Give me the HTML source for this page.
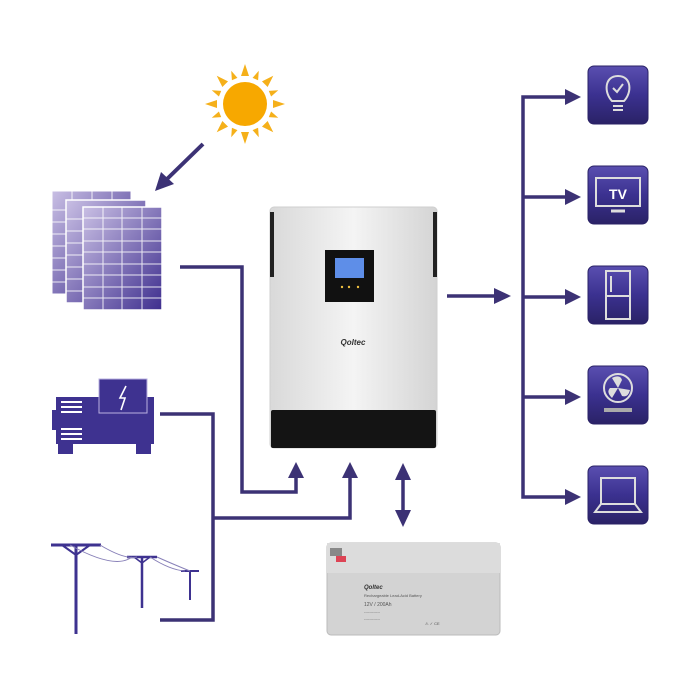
<!DOCTYPE html>
<html><head><style>body{margin:0;background:#fff}svg{display:block}</style></head><body>
<svg width="700" height="700" viewBox="0 0 700 700" xmlns="http://www.w3.org/2000/svg" font-family="Liberation Sans, sans-serif">
<defs>
<linearGradient id="pv" x1="0" y1="0" x2="1" y2="1"><stop offset="0" stop-color="#c9bfe4"/><stop offset="1" stop-color="#3e2e8e"/></linearGradient>
<linearGradient id="ic" x1="0" y1="0" x2="0" y2="1"><stop offset="0" stop-color="#5a4fb0"/><stop offset="0.5" stop-color="#3b3190"/><stop offset="1" stop-color="#2a2266"/></linearGradient>
<linearGradient id="inv" x1="0" y1="0" x2="1" y2="0"><stop offset="0" stop-color="#d9d9d9"/><stop offset="0.5" stop-color="#f4f4f4"/><stop offset="1" stop-color="#d4d4d4"/></linearGradient>
<pattern id="grid" width="19.75" height="11.4" patternUnits="userSpaceOnUse"><rect width="19.75" height="11.4" fill="none" stroke="#fff" stroke-width="1.2" opacity="0.8"/></pattern>
</defs>
<!-- sun -->
<g fill="#f5b01a">
<circle cx="245" cy="104" r="22" fill="#f7a800"/>
<g transform="translate(245,104)">
<polygon points="-4,-28 4,-28 0,-40"/><polygon points="-4,28 4,28 0,40"/><polygon points="-28,-4 -28,4 -40,0"/><polygon points="28,-4 28,4 40,0"/>
<g transform="rotate(45)"><polygon points="-4,-28 4,-28 0,-40"/><polygon points="-4,28 4,28 0,40"/><polygon points="-28,-4 -28,4 -40,0"/><polygon points="28,-4 28,4 40,0"/></g>
<g transform="rotate(22.5)"><polygon points="-3,-27 3,-27 0,-36"/><polygon points="-3,27 3,27 0,36"/><polygon points="-27,-3 -27,3 -36,0"/><polygon points="27,-3 27,3 36,0"/></g>
<g transform="rotate(67.5)"><polygon points="-3,-27 3,-27 0,-36"/><polygon points="-3,27 3,27 0,36"/><polygon points="-27,-3 -27,3 -36,0"/><polygon points="27,-3 27,3 36,0"/></g>
</g></g>
<line x1="203" y1="144" x2="166" y2="180" stroke="#3c3275" stroke-width="4"/>
<polygon points="155,191 161,172 174,184" fill="#3c3275"/>
<!-- panels -->
<g><rect x="52" y="191" width="79" height="103" fill="url(#pv)"/><rect x="52" y="191" width="79" height="103" fill="url(#pg)" stroke="#fff"/>
<rect x="66" y="200" width="80" height="103" fill="url(#pv)" stroke="#fff" stroke-width="1.5"/>
<rect x="83" y="207" width="79" height="103" fill="url(#pv)" stroke="#fff" stroke-width="1.5"/>
<g stroke="#fff" stroke-width="1" opacity="0.85">
<line x1="72" y1="191" x2="72" y2="200"/><line x1="92" y1="191" x2="92" y2="200"/><line x1="112" y1="191" x2="112" y2="200"/>
<line x1="52" y1="210" x2="66" y2="210"/><line x1="52" y1="222" x2="66" y2="222"/><line x1="52" y1="234" x2="66" y2="234"/><line x1="52" y1="246" x2="66" y2="246"/><line x1="52" y1="258" x2="66" y2="258"/><line x1="52" y1="270" x2="66" y2="270"/><line x1="52" y1="282" x2="66" y2="282"/>
<line x1="66" y1="219" x2="83" y2="219"/><line x1="66" y1="231" x2="83" y2="231"/><line x1="66" y1="243" x2="83" y2="243"/><line x1="66" y1="255" x2="83" y2="255"/><line x1="66" y1="267" x2="83" y2="267"/><line x1="66" y1="279" x2="83" y2="279"/><line x1="66" y1="291" x2="83" y2="291"/>
<line x1="103" y1="207" x2="103" y2="310"/><line x1="122" y1="207" x2="122" y2="310"/><line x1="142" y1="207" x2="142" y2="310"/>
<line x1="83" y1="218" x2="162" y2="218"/><line x1="83" y1="229" x2="162" y2="229"/><line x1="83" y1="241" x2="162" y2="241"/><line x1="83" y1="252" x2="162" y2="252"/><line x1="83" y1="264" x2="162" y2="264"/><line x1="83" y1="275" x2="162" y2="275"/><line x1="83" y1="287" x2="162" y2="287"/><line x1="83" y1="298" x2="162" y2="298"/>
</g></g>
<!-- generator -->
<g fill="#3e3290">
<rect x="52" y="410" width="5" height="20"/>
<rect x="56" y="397" width="98" height="47"/>
<rect x="99" y="379" width="48" height="34" stroke="#b9b0e0" stroke-width="1"/>
<rect x="58" y="444" width="15" height="10"/><rect x="136" y="444" width="15" height="10"/>
</g>
<g stroke="#fff" stroke-width="2"><line x1="61" y1="402" x2="82" y2="402"/><line x1="61" y1="407" x2="82" y2="407"/><line x1="61" y1="412" x2="82" y2="412"/><line x1="61" y1="429" x2="82" y2="429"/><line x1="61" y1="434" x2="82" y2="434"/><line x1="61" y1="439" x2="82" y2="439"/></g>
<polyline points="126,386 120,398 125,398 121,410" fill="none" stroke="#fff" stroke-width="1.6"/>
<!-- poles -->
<g stroke="#3e3290" fill="#3e3290">
<line x1="76" y1="545" x2="76" y2="634" stroke-width="3"/><line x1="51" y1="545" x2="101" y2="545" stroke-width="3"/><polyline points="62,545 76,555 90,545" fill="none" stroke-width="2"/>
<line x1="142" y1="557" x2="142" y2="608" stroke-width="2.5"/><line x1="127" y1="557" x2="157" y2="557" stroke-width="2.5"/><polyline points="134,557 142,563 150,557" fill="none" stroke-width="1.5"/>
<line x1="190" y1="571" x2="190" y2="600" stroke-width="2"/><line x1="181" y1="571" x2="199" y2="571" stroke-width="2"/>
</g>
<g fill="none" stroke="#8880b8" stroke-width="1"><path d="M100,545 Q125,560 137,557"/><path d="M70,545 Q115,570 132,557"/><path d="M157,557 Q175,565 190,571"/><path d="M150,557 Q170,570 185,571"/></g>
<!-- connectors -->
<g fill="none" stroke="#3c3275" stroke-width="3.5">
<polyline points="180,267 242,267 242,492 296,492 296,475"/>
<polyline points="160,414 213,414 213,620 160,620"/>
<polyline points="213,518 350,518 350,475"/>
<line x1="403" y1="478" x2="403" y2="512"/>
<line x1="447" y1="296" x2="498" y2="296"/>
<polyline points="570,97 523,97 523,497 570,497"/>
<line x1="523" y1="197" x2="570" y2="197"/><line x1="523" y1="297" x2="570" y2="297"/><line x1="523" y1="397" x2="570" y2="397"/>
</g>
<g fill="#3c3275">
<polygon points="296,462 288,478 304,478"/><polygon points="350,462 342,478 358,478"/>
<polygon points="403,463 395,480 411,480"/><polygon points="403,527 395,510 411,510"/>
<polygon points="511,296 494,288 494,304"/>
<polygon points="581,97 565,89 565,105"/><polygon points="581,197 565,189 565,205"/><polygon points="581,297 565,289 565,305"/><polygon points="581,397 565,389 565,405"/><polygon points="581,497 565,489 565,505"/>
</g>
<!-- inverter -->
<rect x="270" y="207" width="167" height="241" rx="4" fill="url(#inv)" stroke="#cfcfcf"/>
<rect x="270" y="212" width="4" height="65" fill="#222"/><rect x="433" y="212" width="4" height="65" fill="#222"/>
<rect x="271" y="410" width="165" height="38" rx="2" fill="#141414"/>
<rect x="325" y="250" width="49" height="52" fill="#111"/>
<rect x="335" y="258" width="29" height="20" fill="#5e8ee8"/>
<g fill="#f0c040"><circle cx="342" cy="287" r="1.2"/><circle cx="349" cy="287" r="1.2"/><circle cx="358" cy="287" r="1.2"/></g>
<text x="353" y="345" font-size="8" font-weight="bold" font-style="italic" fill="#333" text-anchor="middle">Qoltec</text>
<!-- battery -->
<rect x="327" y="543" width="173" height="92" rx="4" fill="#d3d3d3" stroke="#bbb"/>
<rect x="327" y="543" width="173" height="30" fill="#dcdcdc"/>
<rect x="330" y="548" width="12" height="8" fill="#888"/><rect x="336" y="556" width="10" height="6" fill="#d45"/>
<g fill="#555" font-size="4"><text x="364" y="589" font-size="6" font-weight="bold" font-style="italic" fill="#333">Qoltec</text>
<text x="364" y="597">Rechargeable Lead-Acid Battery</text><text x="364" y="606" font-size="5">12V / 200Ah</text>
<text x="364" y="613">------------</text><text x="364" y="620">------------</text><text x="425" y="625">⚠ ✓ CE</text></g>
<!-- icons -->
<g fill="url(#ic)" stroke="#2a2266" stroke-width="1">
<rect x="588" y="66" width="60" height="58" rx="6"/><rect x="588" y="166" width="60" height="58" rx="6"/><rect x="588" y="266" width="60" height="58" rx="6"/><rect x="588" y="366" width="60" height="58" rx="6"/><rect x="588" y="466" width="60" height="58" rx="6"/>
</g>
<g fill="none" stroke="#ddd" stroke-width="2">
<path d="M612,101 C604,93 604,76 618,76 C632,76 632,93 624,101 Z"/><line x1="613" y1="106" x2="623" y2="106"/><line x1="613" y1="110" x2="623" y2="110"/><polyline points="613,88 617,92 623,84"/>
<rect x="596" y="178" width="44" height="28"/><line x1="611" y1="211" x2="625" y2="211" stroke-width="3"/>
<rect x="606" y="271" width="24" height="48"/><line x1="606" y1="296" x2="630" y2="296"/><line x1="611" y1="276" x2="611" y2="292"/>
<circle cx="618" cy="388" r="14"/><line x1="604" y1="410" x2="632" y2="410" stroke-width="4" stroke="#aaa"/>
<rect x="601" y="478" width="34" height="26"/><polyline points="601,504 595,512 641,512 635,504"/>
</g>
<text x="618" y="199" font-size="14" fill="#fff" text-anchor="middle" font-weight="bold">TV</text>
<g fill="#ddd"><path d="M618,388 L612,378 Q620,374 622,380 Z"/><path d="M618,388 L630,390 Q628,398 622,396 Z"/><path d="M618,388 L612,398 Q606,392 610,388 Z"/></g>
</svg>
</body></html>
